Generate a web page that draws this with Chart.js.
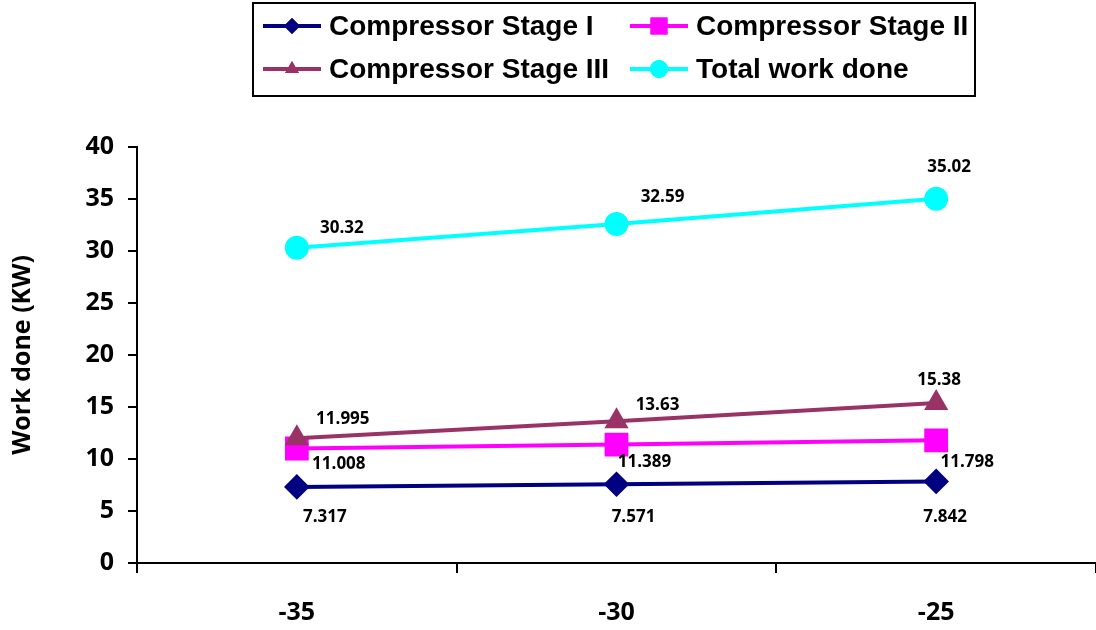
<!DOCTYPE html>
<html>
<head>
<meta charset="utf-8">
<script src="https://cdn.jsdelivr.net/npm/chart.js@4"></script>
<style>
body{margin:0;background:#fff}
</style>
</head>
<body>
<canvas id="myChart" width="1096" height="630"></canvas>
<script>
// data
let temps=['-35','-30','-25']
let stage1=[7.317,7.571,7.842]
let stage2=[11.008,11.389,11.798]
let stage3=[11.995,13.63,15.38]
let total=[30.32,32.59,35.02]
let names=['Compressor Stage I','Compressor Stage II','Compressor Stage III','Total work done']

// where each value label sits relative to its point (dx,dy)
let labelShift=[
  [[28,30],[17,33],[9,36]],
  [[42,16],[28,18],[31,22]],
  [[46,-19],[41,-16],[3,-23]],
  [[45,-20],[46,-27],[13,-32]]
]

let valueLabels={
  id:'valueLabels',
  afterDatasetsDraw(chart){
    let ctx=chart.ctx
    ctx.save()
    ctx.font='bold 17px "Open Sans"'
    ctx.fillStyle='#000'
    ctx.textAlign='center'
    ctx.textBaseline='middle'
    chart.data.datasets.forEach((ds,i)=>{
      let meta=chart.getDatasetMeta(i)
      meta.data.forEach((pt,j)=>{
        let s=labelShift[i][j]
        ctx.fillText(String(ds.data[j]),pt.x+s[0],pt.y+s[1])
      })
    })
    ctx.restore()
  }
}

let boxLegend={
  id:'boxLegend',
  afterDraw(chart){
    let ctx=chart.ctx
    ctx.save()
    ctx.strokeStyle='#000'
    ctx.lineWidth=2
    ctx.strokeRect(253,3,722,93)
    let cols=[263,630]
    let rows=[26,69]
    let sizes=[8,12,8,9]
    chart.data.datasets.forEach((ds,i)=>{
      let x=cols[i%2],y=rows[Math.floor(i/2)]
      ctx.strokeStyle=ds.borderColor
      ctx.lineWidth=4
      ctx.beginPath()
      ctx.moveTo(x,y)
      ctx.lineTo(x+58,y)
      ctx.stroke()
      ctx.fillStyle=ds.backgroundColor
      Chart.helpers.drawPoint(ctx,{pointStyle:ds.pointStyle,radius:sizes[i],borderWidth:0},x+29,y)
      ctx.fill()
      ctx.fillStyle='#000'
      ctx.font='bold 28px "Liberation Sans"'
      ctx.textBaseline='middle'
      ctx.textAlign='left'
      ctx.fillText(names[i],x+66,y+1)
    })
    ctx.restore()
  }
}

function z()
{
  const ctx=document.getElementById('myChart')
  new Chart(ctx,{
    type:'line',
    data:{
      labels:temps,
      datasets:[
        {label:names[0],data:stage1,borderColor:'#000080',backgroundColor:'#000080',pointStyle:'rectRot',pointRadius:10,borderWidth:4,order:4},
        {label:names[1],data:stage2,borderColor:'#FF00FF',backgroundColor:'#FF00FF',pointStyle:'rect',pointRadius:14,borderWidth:4,order:3},
        {label:names[2],data:stage3,borderColor:'#993366',backgroundColor:'#993366',pointStyle:'triangle',pointRadius:10,borderWidth:4,order:2},
        {label:names[3],data:total,borderColor:'#00FFFF',backgroundColor:'#00FFFF',pointStyle:'circle',pointRadius:10,borderWidth:4,order:1}
      ]
    },
    options:{
      responsive:false,
      animation:false,
      devicePixelRatio:1,
      layout:{autoPadding:false,padding:{top:147,left:0,right:0,bottom:0}},
      elements:{point:{borderWidth:0,hoverRadius:10},line:{tension:0}},
      plugins:{legend:{display:false},tooltip:{enabled:false}},
      scales:{
        x:{
          offset:true,
          grid:{offset:true,drawOnChartArea:false,tickLength:10,color:'#000',lineWidth:2},
          border:{color:'#000',width:2},
          ticks:{color:'#000',font:{family:'Open Sans',weight:'bold',size:25},padding:25},
          afterFit(s){s.height=67}
        },
        y:{
          min:0,max:40,
          ticks:{stepSize:5,color:'#000',font:{family:'Open Sans',weight:'bold',size:25},padding:14},
          grid:{drawOnChartArea:false,tickLength:9,color:'#000',lineWidth:2},
          border:{color:'#000',width:2},
          title:{display:true,text:'Work done (KW)',color:'#000',font:{family:'Open Sans',weight:'bold',size:25},padding:{top:8,bottom:0}},
          afterFit(s){s.width=137}
        }
      }
    },
    plugins:[valueLabels,boxLegend]
  })
}
z()
</script>
</body>
</html>
